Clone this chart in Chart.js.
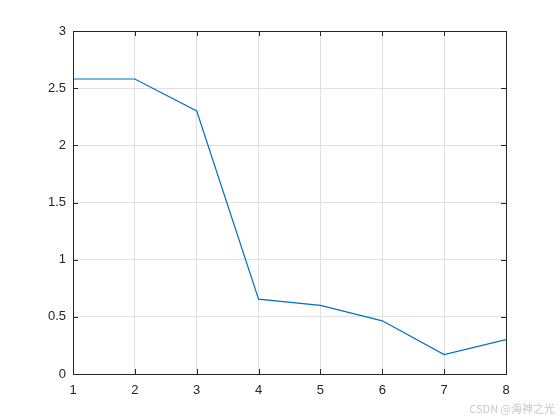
<!DOCTYPE html>
<html>
<head>
<meta charset="UTF-8">
<title>chart</title>
<script src="https://cdn.jsdelivr.net/npm/chart.js"></script>
<style>
  html, body { margin: 0; padding: 0; background: #fff; }
</style>
</head>
<body>
<canvas id="mychart" width="560" height="420"></canvas>
<script>
const xVals = [1, 2, 3, 4, 5, 6, 7, 8];
const yVals = [2.58, 2.58, 2.30, 0.655, 0.60, 0.465, 0.17, 0.30];
const yTicks = [0, 0.5, 1, 1.5, 2, 2.5, 3];
const watermark = 'CSDN @海神之光';

const axisColor = '#262626';

// box + inward tick marks like matlab
const boxPlugin = {
    id: 'box',
    afterDraw(chart) {
        const c = chart.ctx, a = chart.chartArea;
        const xs = chart.scales.x, ys = chart.scales.y;
        c.save();
        c.strokeStyle = axisColor;
        c.lineWidth = 1;
        c.strokeRect(Math.round(a.left) + 0.5, Math.round(a.top) + 0.5,
                     Math.round(a.right - a.left), Math.round(a.bottom - a.top));
        c.beginPath();
        xVals.forEach(v => {
            const px = Math.round(xs.getPixelForValue(v)) + 0.5;
            c.moveTo(px, a.bottom); c.lineTo(px, a.bottom - 5);
            c.moveTo(px, a.top); c.lineTo(px, a.top + 5);
        });
        yTicks.forEach(v => {
            const py = Math.round(ys.getPixelForValue(v)) + 0.5;
            c.moveTo(a.left, py); c.lineTo(a.left + 5, py);
            c.moveTo(a.right, py); c.lineTo(a.right - 5, py);
        });
        c.stroke();
        c.fillStyle = '#c8c8c8';
        c.font = '11px "Noto Sans CJK SC", sans-serif';
        c.textAlign = 'right';
        c.textBaseline = 'middle';
        c.fillText(watermark, 555, 409);
        c.restore();
    }
};

new Chart(document.querySelector('#mychart'), {
    type: 'line',
    data: {
        datasets: [{
            data: xVals.map((x, i) => ({ x: x, y: yVals[i] })),
            borderColor: '#0072BD',
            borderWidth: 1.2,
            pointRadius: 0,
            fill: false,
            tension: 0
        }]
    },
    plugins: [boxPlugin],
    options: {
        responsive: false,
        animation: false,
        devicePixelRatio: 1,
        layout: { padding: { left: 0, right: 54, top: 31, bottom: 0 } },
        plugins: { legend: { display: false }, tooltip: { enabled: false } },
        scales: {
            x: {
                type: 'linear', min: 1, max: 8,
                afterFit: s => { s.height = 46; },
                afterBuildTicks: s => { s.ticks = xVals.map(v => ({ value: v })); },
                grid: { color: '#e0e0e0', drawTicks: false },
                border: { display: false },
                ticks: { color: axisColor, padding: 9, maxRotation: 0, autoSkip: false,
                         callback: v => String(v),
                         font: { family: 'Liberation Sans, Arial', size: 13 } }
            },
            y: {
                min: 0, max: 3,
                afterFit: s => { s.width = 73; },
                afterBuildTicks: s => { s.ticks = yTicks.map(v => ({ value: v })); },
                grid: { color: '#e0e0e0', drawTicks: false },
                border: { display: false },
                ticks: { color: axisColor, padding: 7, autoSkip: false,
                         callback: v => String(v),
                         font: { family: 'Liberation Sans, Arial', size: 13 } }
            }
        }
    }
});
</script>
</body>
</html>
